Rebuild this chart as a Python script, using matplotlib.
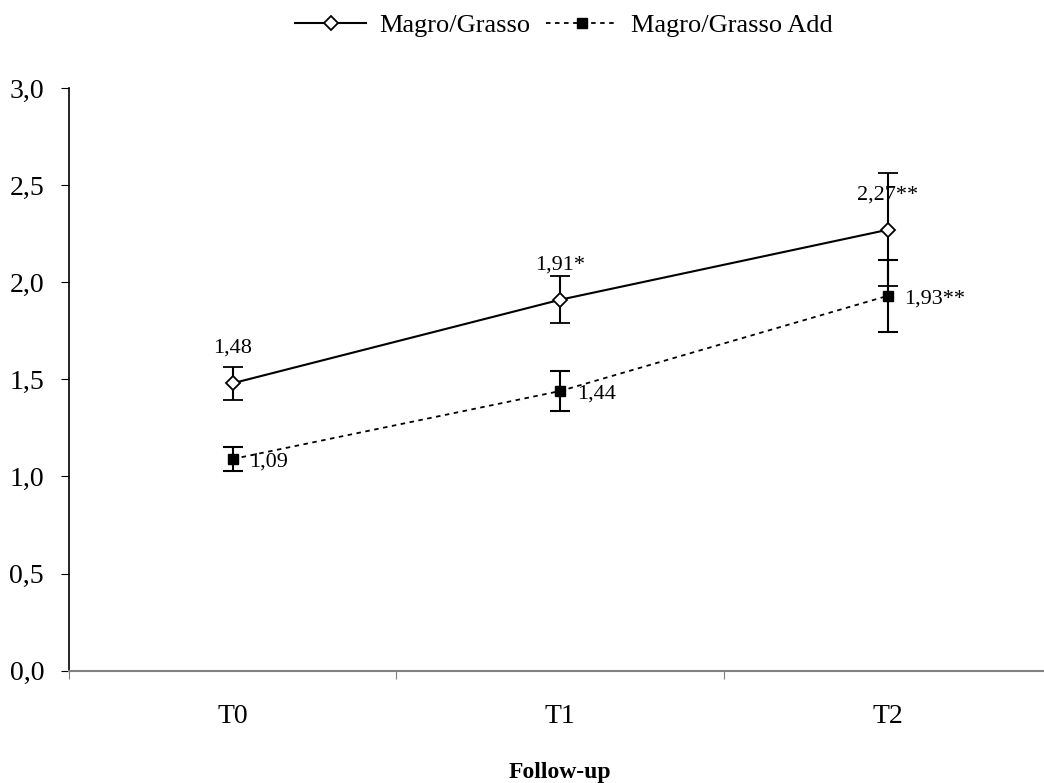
import matplotlib.pyplot as plt
from matplotlib.lines import Line2D
import numpy as np

plt.rcParams['font.family'] = ['Liberation Serif', 'DejaVu Serif']

categories = ['T0', 'T1', 'T2']
magro = [1.48, 1.91, 2.27]
magro_err = [0.085, 0.12, 0.29]
magro_labels = ['1,48', '1,91*', '2,27**']
add = [1.09, 1.44, 1.93]
add_err = [0.06, 0.105, 0.185]
add_labels = ['1,09', '1,44', '1,93**']
yticks = [0.0, 0.5, 1.0, 1.5, 2.0, 2.5, 3.0]

fig = plt.figure(figsize=(10.44, 7.83), dpi=100)
ax = fig.add_axes([0.0661, 0.1434, 0.941, 0.7442])

x = np.arange(len(categories)) + 0.5
add_ls = (0, (2.5, 2.5))

ax.errorbar(x, magro, yerr=magro_err, color='black', lw=1.5, marker='D',
            markersize=7, markerfacecolor='white', markeredgecolor='black',
            markeredgewidth=1.3, capsize=7, elinewidth=1.5, capthick=1.5,
            zorder=3)
ax.errorbar(x, add, yerr=add_err, color='black', lw=1.3, ls=add_ls,
            marker='s', markersize=7, markerfacecolor='black',
            markeredgecolor='black', capsize=7, elinewidth=1.5, capthick=1.5,
            zorder=3)

for xi, v, t in zip(x, magro, magro_labels):
    ax.annotate(t, (xi, v), xytext=(0, 25), textcoords='offset points',
                ha='center', va='center', fontsize=16)
for xi, v, t in zip(x, add, add_labels):
    ax.annotate(t, (xi, v), xytext=(12, -2), textcoords='offset points',
                ha='left', va='center', fontsize=16)

ax.set_xlim(0, 3)
ax.set_ylim(0, 3)
ax.set_yticks(yticks)
ax.set_yticklabels([f'{v:.1f}'.replace('.', ',') for v in yticks], fontsize=20)
ax.set_xticks([0, 1, 2, 3])
ax.set_xticklabels([])
ax.set_xticks(x, minor=True)
ax.set_xticklabels(categories, minor=True, fontsize=20)
ax.tick_params(axis='x', which='minor', length=0, pad=24)
ax.tick_params(axis='x', which='major', length=6, color='#808080')
ax.tick_params(axis='y', length=6, pad=12)

for s in ['top', 'right']:
    ax.spines[s].set_visible(False)
ax.spines['bottom'].set_color('#808080')
ax.spines['bottom'].set_linewidth(1.5)
ax.spines['left'].set_linewidth(1.2)

ax.set_xlabel('Follow-up', fontsize=17, fontweight='bold', labelpad=24)

handles = [
    Line2D([], [], color='black', lw=1.5, marker='D', markersize=7,
           markerfacecolor='white', markeredgecolor='black', markeredgewidth=1.3),
    Line2D([], [], color='black', lw=1.3, ls=add_ls, marker='s', markersize=7,
           markerfacecolor='black', markeredgecolor='black'),
]
fig.legend(handles, ['Magro/Grasso', 'Magro/Grasso Add'], loc='upper center',
           bbox_to_anchor=(0.54, 1.013), ncol=2, frameon=False, fontsize=19,
           handlelength=2.7, columnspacing=0.6, handletextpad=0.5)

fig.savefig('out.png', dpi=100)
